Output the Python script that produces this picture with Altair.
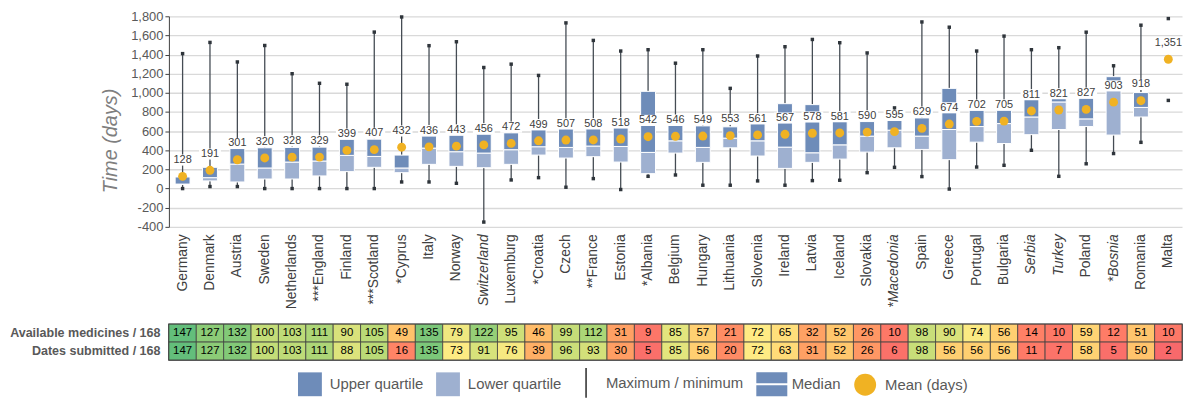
import json
import altair as alt
import pandas as pd

countries = ["Germany", "Denmark", "Austria", "Sweden", "Netherlands", "***England", "Finland",
             "***Scotland", "*Cyprus", "Italy", "Norway", "Switzerland", "Luxemburg", "*Croatia",
             "Czech", "**France", "Estonia", "*Albania", "Belgium", "Hungary", "Lithuania",
             "Slovenia", "Ireland", "Latvia", "Iceland", "Slovakia", "*Macedonia", "Spain",
             "Greece", "Portugal", "Bulgaria", "Serbia", "Turkey", "Poland", "*Bosnia",
             "Romania", "Malta"]
italic_countries = ["Switzerland", "*Macedonia", "Serbia", "Turkey", "*Bosnia"]

max_days = [1410, 1527, 1323, 1495, 1200, 1100, 1090, 1635, 1793, 1493,
            1534, 1265, 1300, 1182, 1731, 1548, 1437, 1451, 1310, 1451,
            1047, 1385, 1482, 1558, 1524, 1417, 843, 1741, 1686, 1437,
            1593, 1451, 1472, 1634, 1283, 1707, 1776]
q3_days = [121, 222, 420, 426, 430, 433, 516, 516, 350, 548,
           558, 568, 582, 613, 624, 624, 634, 1016, 659, 655,
           645, 676, 887, 877, 700, 700, 711, 738, 1047, 818,
           818, 930, 945, 945, 1169, 1003, None]
median_days = [47, 114, 256, 215, 277, 288, 347, 336, 215, 423,
               385, 371, 406, 437, 430, 444, 440, 378, 499, 430,
               527, 499, 433, 374, 457, 548, 610, 548, 617, 648,
               679, 748, 905, 728, 1050, 848, None]
q1_days = [45, 80, 69, 100, 100, 132, 177, 222, 166, 253,
           232, 218, 253, 350, 319, 333, 277, 156, 371, 274,
           426, 340, 211, 274, 308, 381, 426, 409, 302, 485,
           471, 563, 617, 648, 559, 748, None]
min_days = [0, 21, 21, 0, 0, 0, 0, 0, 69, 69,
            55, -350, 90, 114, 14, 104, -10, 128, 142, 35,
            35, 80, 35, 83, 87, 166, 222, 125, -5, 225,
            243, 400, 128, 259, 366, 483, 921]
mean_days = [128, 191, 301, 320, 328, 329, 399, 407, 432, 436,
             443, 456, 472, 499, 507, 508, 518, 542, 546, 549,
             553, 561, 567, 578, 581, 590, 595, 629, 674, 702,
             705, 811, 821, 827, 903, 918, 1351]

available_medicines = [147, 127, 132, 100, 103, 111, 90, 105, 49, 135,
                       79, 122, 95, 46, 99, 112, 31, 9, 85, 57,
                       21, 72, 65, 32, 52, 26, 10, 98, 90, 74,
                       56, 14, 10, 59, 12, 51, 10]
dates_submitted = [147, 127, 132, 100, 103, 111, 88, 105, 16, 135,
                   73, 91, 76, 39, 96, 93, 30, 5, 85, 56,
                   20, 72, 63, 31, 52, 26, 6, 98, 56, 56,
                   56, 11, 7, 58, 5, 50, 2]
row_labels = ["Available medicines / 168", "Dates submitted / 168"]
legend_items = ["Upper quartile", "Lower quartile", "Maximum / minimum", "Median", "Mean (days)"]
y_ticks = [-400, -200, 0, 200, 400, 600, 800, 1000, 1200, 1400, 1600, 1800]

DARK = "#6E8CB9"
LIGHT = "#9EB0D0"
GOLD = "#F0B223"
WHISK = "#454C54"
FONT = "Liberation Sans"

df = pd.DataFrame({
    "country": countries, "max": max_days, "q3": q3_days, "median": median_days,
    "q1": q1_days, "min": min_days, "mean": mean_days,
})

italic_expr = ("indexof(" + json.dumps(italic_countries) +
               ", datum.value) >= 0 ? 'italic' : 'normal'")

band = alt.Scale(paddingInner=0, paddingOuter=0)
x_axis = alt.Axis(title=None, labelAngle=270, labelFontSize=14, labelColor="#404040",
                  labelPadding=7, ticks=False, domain=False, grid=False,
                  labelOverlap=False, labelFontStyle=alt.ExprRef(expr=italic_expr))
y_scale = alt.Scale(domain=[-400, 1800], nice=False, zero=False)
y_axis = alt.Axis(title="Time (days)", values=y_ticks, format=",d",
                  labelExpr="replace(datum.label, '\u2212', '-')",
                  labelOverlap=False,
                  grid=True, gridColor="#D9D9D9", gridWidth=1.3,
                  domain=True, domainColor="#404040", domainWidth=1,
                  ticks=True, tickSize=4, tickColor="#404040",
                  labelFontSize=13, labelColor="#595959", labelPadding=2,
                  titleFontSize=20, titleFontStyle="italic", titleFontWeight="normal",
                  titleColor="#7F7F7F", titlePadding=10, titleY=125)


def Y(field):
    return alt.Y(field, type="quantitative", scale=y_scale, axis=y_axis)


base = alt.Chart(df).encode(x=alt.X("country:N", sort=countries, scale=band, axis=x_axis))

zero_rule = base.mark_rule(color="#333333", strokeWidth=1.5).encode(
    y=alt.YDatum(0, type="quantitative", scale=y_scale, axis=y_axis))
whisk_up = base.mark_rule(color=WHISK, strokeWidth=1.3).encode(y=Y("q3"), y2="max")
whisk_lo = base.mark_rule(color=WHISK, strokeWidth=1.3).encode(y=Y("min"), y2="q1")
ends = base.transform_fold(["max", "min"], as_=["which", "val"]).mark_square(
    size=12, color="#2F353B", opacity=1).encode(y=Y("val"))
lower_box = base.mark_bar(width=15, color=LIGHT, stroke="white", strokeWidth=1).encode(
    y=Y("q1"), y2="median")
upper_box = base.mark_bar(width=15, color=DARK, stroke="white", strokeWidth=1).encode(
    y=Y("median"), y2="q3")
label_bg = base.transform_calculate(lb="datum.mean + 112", lt="datum.mean + 228").mark_bar(
    width=22, color="white").encode(y=Y("lb"), y2="lt")
label_txt = base.transform_calculate(ly="datum.mean + 170").mark_text(
    fontSize=11, color="#404040").encode(y=Y("ly"), text=alt.Text("mean:Q", format=","))
mean_dots = base.mark_circle(size=80, color=GOLD, opacity=1).encode(y=Y("mean"))

main = alt.layer(zero_rule, whisk_up, whisk_lo, ends, lower_box, upper_box,
                 label_bg, label_txt, mean_dots).properties(width=1020, height=212)

tdf = pd.DataFrame({
    "country": countries * 2,
    "row": [row_labels[0]] * len(countries) + [row_labels[1]] * len(countries),
    "value": available_medicines + dates_submitted,
})
tx = alt.X("country:N", sort=countries, scale=band, axis=None)
ty = alt.Y("row:N", sort=row_labels, scale=alt.Scale(paddingInner=0, paddingOuter=0),
           axis=alt.Axis(title=None, domain=False, ticks=False, labelPadding=9,
                         labelFontSize=12.6, labelFontWeight="bold", labelColor="#595959"))
cells = alt.Chart(tdf).mark_rect(stroke="#404040", strokeWidth=0.8).encode(
    x=tx, y=ty,
    fill=alt.Fill("value:Q", scale=alt.Scale(domain=[2, 72, 147],
                                             range=["#F8696B", "#FFEB84", "#63BE7B"]),
                  legend=None))
cell_txt = alt.Chart(tdf).mark_text(fontSize=11.5, color="black").encode(
    x=tx, y=ty, text="value:Q")

shape_paths = [
    "M-1,-1H1V1H-1Z",
    "M-1,-1H1V1H-1Z",
    "M-0.07,-1.25H0.07V1.25H-0.07Z",
    "M-1.3,-1H1.3V-0.08H-1.3Z M-1.3,0.08H1.3V1H-1.3Z",
    "M0.92,0A0.92,0.92,0,1,1,-0.92,0A0.92,0.92,0,1,1,0.92,0Z",
]
leg = alt.Legend(title=None, orient="none", legendX=130, legendY=357, direction="horizontal",
                 symbolSize=576, symbolOpacity=1, symbolStrokeWidth=0,
                 labelFontSize=15, labelColor="#595959", labelOffset=8,
                 columnPadding=12, padding=0)
legend_layer = alt.Chart(pd.DataFrame({"item": legend_items})).mark_point(
    filled=True, opacity=0).encode(
    color=alt.Color("item:N", scale=alt.Scale(domain=legend_items,
                                              range=[DARK, LIGHT, "#404040", DARK, GOLD]),
                    legend=leg),
    shape=alt.Shape("item:N", scale=alt.Scale(domain=legend_items, range=shape_paths),
                    legend=leg),
)

table = alt.layer(cells, cell_txt, legend_layer).properties(
    width=1020, height=36,
    view=alt.ViewBackground(stroke="#333333", strokeWidth=1.5))

chart = alt.vconcat(main, table, spacing=13).properties(
    padding={"left": 0, "top": 1, "right": 0, "bottom": 5}
).configure(font=FONT).configure_view(strokeWidth=0)

chart.save("out.html", embed_options={"renderer": "svg", "actions": False})
